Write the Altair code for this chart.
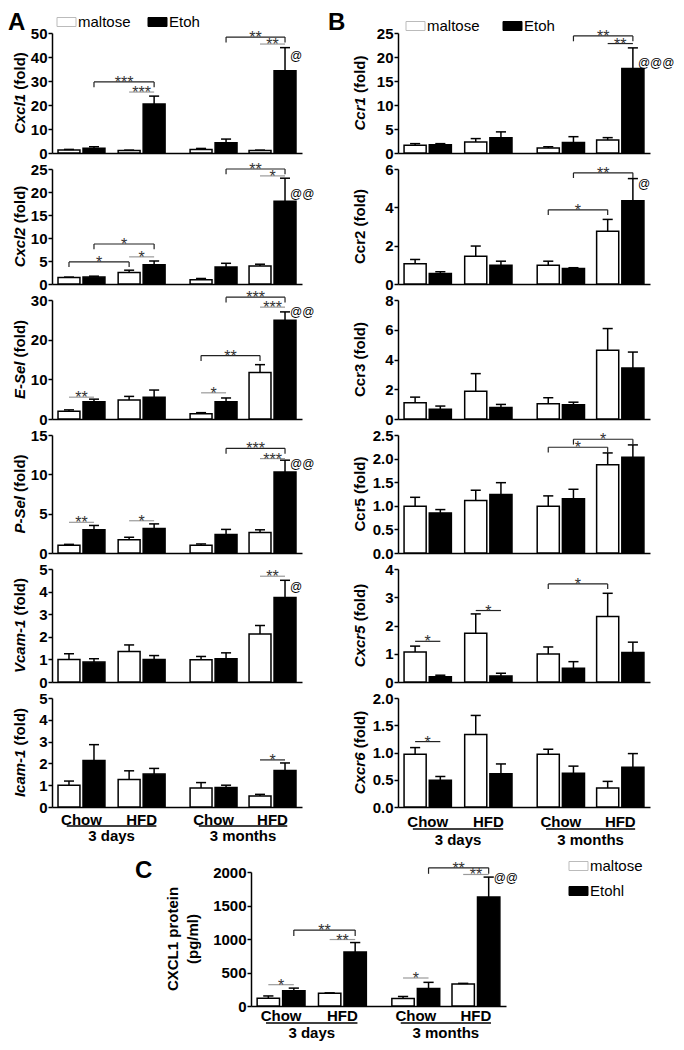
import altair as alt
import pandas as pd

FONT = "Liberation Sans"

# ---------------- data ----------------
groups = ["Chow", "HFD", "Chow", "HFD"]
periods = ["3 days", "3 months"]
treatments = ["maltose", "Etoh"]
treatments_c = ["maltose", "Etohl"]

# bar order: Chow-3d maltose, Chow-3d Etoh, HFD-3d maltose, HFD-3d Etoh,
#            Chow-3m maltose, Chow-3m Etoh, HFD-3m maltose, HFD-3m Etoh
cxcl1_mean = [1.2, 2.0, 1.0, 20.4, 1.5, 4.3, 1.0, 34.3]
cxcl1_top = [1.5, 2.6, 1.2, 23.7, 1.9, 5.8, 1.2, 43.9]
cxcl2_mean = [1.4, 1.5, 2.5, 4.2, 0.9, 3.7, 3.9, 18.0]
cxcl2_top = [1.5, 1.7, 3.0, 5.0, 1.2, 4.5, 4.3, 23.0]
esel_mean = [1.95, 4.35, 4.8, 5.5, 1.3, 4.35, 11.7, 24.9]
esel_top = [2.3, 5.0, 5.7, 7.3, 1.6, 5.3, 13.7, 27.0]
psel_mean = [1.0, 2.95, 1.7, 3.1, 1.0, 2.35, 2.6, 10.3]
psel_top = [1.1, 3.5, 2.0, 3.7, 1.15, 3.0, 2.95, 11.8]
vcam_mean = [1.0, 0.88, 1.35, 1.0, 0.99, 1.03, 2.12, 3.74]
vcam_top = [1.25, 1.03, 1.64, 1.17, 1.13, 1.29, 2.5, 4.5]
icam_mean = [1.0, 2.13, 1.26, 1.51, 0.87, 0.9, 0.51, 1.67]
icam_top = [1.19, 2.86, 1.66, 1.77, 1.12, 1.0, 0.58, 2.02]

ccr1_mean = [1.6, 1.7, 2.3, 3.2, 1.05, 2.2, 2.7, 17.6]
ccr1_top = [1.95, 1.95, 3.0, 4.4, 1.3, 3.4, 3.2, 21.9]
ccr2_mean = [1.06, 0.55, 1.45, 0.98, 0.98, 0.81, 2.75, 4.35]
ccr2_top = [1.28, 0.64, 1.98, 1.19, 1.19, 0.85, 3.37, 5.5]
ccr3_mean = [1.1, 0.65, 1.86, 0.78, 1.02, 0.95, 4.62, 3.43]
ccr3_top = [1.47, 0.87, 3.05, 0.98, 1.43, 1.13, 6.08, 4.5]
ccr5_mean = [0.99, 0.85, 1.11, 1.24, 0.99, 1.15, 1.87, 2.03]
ccr5_top = [1.18, 0.92, 1.33, 1.49, 1.21, 1.35, 2.12, 2.29]
cxcr5_mean = [1.06, 0.19, 1.73, 0.21, 0.99, 0.49, 2.32, 1.04]
cxcr5_top = [1.27, 0.24, 2.41, 0.31, 1.24, 0.72, 3.14, 1.41]
cxcr6_mean = [0.97, 0.49, 1.33, 0.61, 0.97, 0.62, 0.35, 0.73]
cxcr6_top = [1.09, 0.56, 1.68, 0.79, 1.06, 0.75, 0.47, 0.98]

protein_mean = [116, 227, 192, 806, 112, 263, 328, 1627]
protein_top = [150, 267, 196, 947, 142, 353, 338, 1924]

# significance marks: (from bar, to bar, level, label, style)
cxcl1_sig = [(1, 3, 29.6, "***", "b"), (2, 3, 25.4, "***", "g"),
             (5, 7, 48.3, "**", "b"), (6, 7, 45.4, "**", "g")]
cxcl2_sig = [(0, 2, 4.8, "*", "b"), (1, 3, 8.7, "*", "b"), (2, 3, 5.9, "*", "g"),
             (5, 7, 25.0, "**", "b"), (6, 7, 23.5, "*", "g")]
esel_sig = [(0, 1, 5.5, "**", "g"), (4, 5, 6.6, "*", "g"), (4, 6, 16.0, "**", "b"),
            (5, 7, 30.7, "***", "b"), (6, 7, 28.2, "***", "g")]
psel_sig = [(0, 1, 3.9, "**", "g"), (2, 3, 4.1, "*", "g"),
            (5, 7, 13.3, "***", "b"), (6, 7, 12.0, "***", "g")]
vcam_sig = [(6, 7, 4.68, "**", "g")]
icam_sig = [(6, 7, 2.16, "*", "k")]
ccr1_sig = [(5, 7, 24.4, "**", "b"), (6, 7, 22.8, "**", "k")]
ccr2_sig = [(4, 6, 3.87, "*", "b"), (5, 7, 5.8, "**", "b")]
ccr3_sig = []
ccr5_sig = [(4, 6, 2.24, "*", "b"), (5, 7, 2.41, "*", "b")]
cxcr5_sig = [(0, 1, 1.44, "*", "k"), (2, 3, 2.53, "*", "k"), (4, 6, 3.47, "*", "b")]
cxcr6_sig = [(0, 1, 1.2, "*", "k")]
protein_sig = [(0, 1, 318, "*", "g"), (1, 3, 1133, "**", "b"), (2, 3, 992, "**", "g"),
               (4, 5, 418, "*", "g"), (5, 7, 2063, "**", "b"), (6, 7, 1963, "**", "g")]

# "@" marks next to the HFD 3-month Etoh bar: (label, level)
cxcl1_at = ("@", 40.4)
cxcl2_at = ("@@", 19.5)
esel_at = ("@@", 27.0)
psel_at = ("@@", 11.3)
vcam_at = ("@", 4.2)
ccr1_at = ("@@@", 18.7)
ccr2_at = ("@", 5.2)
protein_at = ("@@", 1913)

# ---------------- layout / style constants ----------------
GROUP_X = [0.0, 1.02, 2.24, 3.24]
X_DOMAIN = [-0.5, 3.74]
PAIR_OFF = 0.212
BAR_HALF = 0.186
CAP_HALF = 0.085
LW = 1.5
STYLE_COLOR = {"b": "#222222", "g": "#9a9a9a", "k": "#222222"}

CHAR_W = {' ': 278, '(': 333, ')': 333, 'f': 333, 'o': 611, 'l': 278, 'd': 611,
          'C': 722, 'x': 556, 'c': 556, '1': 556, '2': 556, '3': 556, '5': 556,
          '6': 556, 'E': 667, '-': 333, 'S': 667, 'e': 556, 'P': 667, 'V': 667,
          'a': 556, 'm': 889, 'I': 278, 'r': 389}


def tw(s, size):
    return sum(CHAR_W.get(ch, 600) for ch in s) / 1000.0 * size


def bar_center(k):
    g, tr = divmod(k, 2)
    return GROUP_X[g] + (PAIR_OFF if tr else -PAIR_OFF)


def bar_df(mean, top):
    rows = []
    for k, (m, t) in enumerate(zip(mean, top)):
        g, tr = divmod(k, 2)
        c = bar_center(k)
        rows.append(dict(k=k, group=groups[g], period=periods[g // 2],
                         treatment=treatments[tr], mean=m, top=t, zero=0.0,
                         c=c, x1=c - BAR_HALF, x2=c + BAR_HALF,
                         cap1=c - CAP_HALF, cap2=c + CAP_HALF,
                         fill="black" if tr else "white"))
    return pd.DataFrame(rows)


def panel(gene, italic, mean, top, ticks, fmt, sig, at, w, h, title_dx,
          letter=None, legend=None, bottom=None, title_lines=None,
          legend_labels=treatments):
    ymax = ticks[-1]
    xs = alt.Scale(domain=X_DOMAIN, nice=False, zero=False)
    ys = alt.Scale(domain=[0, ymax], nice=False, zero=True)
    yaxis = alt.Axis(values=ticks, format=fmt, title=None, grid=False,
                     labelFont=FONT, labelFontSize=15, labelFontWeight="bold",
                     labelColor="black", tickColor="black", tickSize=4,
                     tickWidth=LW, domainColor="black", domainWidth=LW,
                     labelPadding=1, labelOverlap=False)
    xaxis = alt.Axis(labels=False, ticks=False, title=None, grid=False,
                     domainColor="black", domainWidth=LW)

    def X(f):
        return alt.X(f, scale=xs, axis=xaxis)

    def Y(f):
        return alt.Y(f, scale=ys, axis=yaxis)

    bars = bar_df(mean, top)
    base = alt.Chart(bars)
    layers = [
        base.mark_rect(stroke="black", strokeWidth=LW).encode(
            x=X("x1:Q"), x2="x2:Q", y=Y("mean:Q"), y2="zero:Q",
            fill=alt.Fill("fill:N", scale=None)),
        base.mark_rule(color="black", strokeWidth=LW).encode(
            x=X("c:Q"), y=Y("mean:Q"), y2="top:Q"),
        base.mark_rule(color="black", strokeWidth=LW).encode(
            x=X("cap1:Q"), x2="cap2:Q", y=Y("top:Q")),
    ]
    if sig:
        srows, trows = [], []
        for (i, j, lev, lab, st) in sig:
            xi, xj = bar_center(i), bar_center(j)
            srows.append(dict(x1=xi, x2=xj, xm=(xi + xj) / 2, y=lev, label=lab,
                              col=STYLE_COLOR[st]))
            if st == "b":
                for xx in (xi, xj):
                    trows.append(dict(x=xx, y=lev, y2=lev - ymax * 0.045))
        sb = alt.Chart(pd.DataFrame(srows))
        layers.append(sb.mark_rule(strokeWidth=1.2).encode(
            x=X("x1:Q"), x2="x2:Q", y=Y("y:Q"),
            color=alt.Color("col:N", scale=None)))
        layers.append(sb.mark_text(font=FONT, fontSize=16, color="#333333",
                                   baseline="alphabetic", dy=6).encode(
            x=X("xm:Q"), y=Y("y:Q"), text="label:N"))
        if trows:
            layers.append(alt.Chart(pd.DataFrame(trows)).mark_rule(
                strokeWidth=1.2, color="#222222").encode(
                x=X("x:Q"), y=Y("y:Q"), y2="y2:Q"))
    if at:
        adf = pd.DataFrame([dict(x=bar_center(7), y=at[1], label=at[0])])
        layers.append(alt.Chart(adf).mark_text(
            font=FONT, fontSize=12, align="left", baseline="middle", dx=5,
            color="black").encode(x=X("x:Q"), y=Y("y:Q"), text="label:N"))
    # y-axis title
    tdf = pd.DataFrame({"t": [0]})
    if title_lines:
        for (txt, dx) in title_lines:
            layers.append(alt.Chart(tdf).mark_text(
                font=FONT, fontSize=15, fontWeight="bold", angle=270,
                align="center", baseline="middle", text=txt, color="black").encode(
                x=alt.value(dx), y=alt.value(h / 2)))
    else:
        fs = 15
        g_w = tw(gene, fs)
        s_w = tw(" ", fs)
        f_w = tw("(fold)", fs)
        yb = h / 2 + (s_w + f_w - g_w) / 2
        layers.append(alt.Chart(tdf).mark_text(
            font=FONT, fontSize=fs, fontWeight="bold",
            fontStyle="italic" if italic else "normal", angle=270,
            align="right", baseline="middle", text=gene, color="black").encode(
            x=alt.value(title_dx), y=alt.value(yb)))
        layers.append(alt.Chart(tdf).mark_text(
            font=FONT, fontSize=fs, fontWeight="bold", angle=270,
            align="left", baseline="middle", text="(fold)", color="black").encode(
            x=alt.value(title_dx), y=alt.value(yb - s_w)))
    if letter:
        txt, lx, ly = letter
        layers.append(alt.Chart(tdf).mark_text(
            font=FONT, fontSize=24, fontWeight="bold", align="left",
            baseline="top", text=txt, color="black").encode(
            x=alt.value(lx), y=alt.value(ly)))
    if legend:
        for k, (bx, by) in enumerate(legend):
            layers.append(alt.Chart(tdf).mark_rect(
                fill="black" if k else "white",
                stroke="black" if k else "#bbbbbb", strokeWidth=1).encode(
                x=alt.value(bx), x2=alt.value(bx + 19),
                y=alt.value(by - 4.5), y2=alt.value(by + 4.5)))
            layers.append(alt.Chart(tdf).mark_text(
                font=FONT, fontSize=15, align="left", baseline="middle",
                text=legend_labels[k], color="black").encode(
                x=alt.value(bx + 21), y=alt.value(by)))
    if bottom:
        o_lab, o_line, o_per = bottom
        gdf = pd.DataFrame({"x": GROUP_X, "label": groups})
        layers.append(alt.Chart(gdf).mark_text(
            font=FONT, fontSize=15, fontWeight="bold", baseline="top",
            color="black").encode(
            x=X("x:Q"), y=alt.value(h + o_lab), text="label:N"))
        pdf = pd.DataFrame({
            "x1": [GROUP_X[0] - 0.25, GROUP_X[2] - 0.25],
            "x2": [GROUP_X[1] + 0.25, GROUP_X[3] + 0.25],
            "label": periods})
        pdf["xm"] = (pdf["x1"] + pdf["x2"]) / 2
        layers.append(alt.Chart(pdf).mark_rule(color="black", strokeWidth=LW).encode(
            x=X("x1:Q"), x2="x2:Q", y=alt.value(h + o_line)))
        layers.append(alt.Chart(pdf).mark_text(
            font=FONT, fontSize=15, fontWeight="bold", baseline="top",
            color="black").encode(
            x=X("xm:Q"), y=alt.value(h + o_per), text="label:N"))
    return alt.layer(*layers).properties(width=w, height=h)


WA, WB, WC = 250, 252, 255
hR = [120, 115, 119, 118, 113, 109]

colA = [
    panel("Cxcl1", True, cxcl1_mean, cxcl1_top, [0, 10, 20, 30, 40, 50], ".0f",
          cxcl1_sig, cxcl1_at, WA, hR[0], -32, letter=("A", -44, -22),
          legend=[(5, -11), (96, -11)]),
    panel("Cxcl2", True, cxcl2_mean, cxcl2_top, [0, 5, 10, 15, 20, 25], ".0f",
          cxcl2_sig, cxcl2_at, WA, hR[1], -32),
    panel("E-Sel", True, esel_mean, esel_top, [0, 10, 20, 30], ".0f",
          esel_sig, esel_at, WA, hR[2], -32),
    panel("P-Sel", True, psel_mean, psel_top, [0, 5, 10, 15], ".0f",
          psel_sig, psel_at, WA, hR[3], -32),
    panel("Vcam-1", True, vcam_mean, vcam_top, [0, 1, 2, 3, 4, 5], ".0f",
          vcam_sig, vcam_at, WA, hR[4], -32),
    panel("Icam-1", True, icam_mean, icam_top, [0, 1, 2, 3, 4, 5], ".0f",
          icam_sig, None, WA, hR[5], -32, bottom=(6, 19, 22)),
]
colB = [
    panel("Ccr1", True, ccr1_mean, ccr1_top, [0, 5, 10, 15, 20, 25], ".0f",
          ccr1_sig, ccr1_at, WB, hR[0], -38, letter=("B", -70, -22),
          legend=[(8, -7), (105, -7)]),
    panel("Ccr2", False, ccr2_mean, ccr2_top, [0, 2, 4, 6], ".0f",
          ccr2_sig, ccr2_at, WB, hR[1], -38),
    panel("Ccr3", False, ccr3_mean, ccr3_top, [0, 2, 4, 6, 8], ".0f",
          ccr3_sig, None, WB, hR[2], -38),
    panel("Ccr5", False, ccr5_mean, ccr5_top, [0, 0.5, 1.0, 1.5, 2.0, 2.5], ".1f",
          ccr5_sig, None, WB, hR[3], -38),
    panel("Cxcr5", True, cxcr5_mean, cxcr5_top, [0, 1, 2, 3, 4], ".0f",
          cxcr5_sig, None, WB, hR[4], -38),
    panel("Cxcr6", True, cxcr6_mean, cxcr6_top, [0, 0.5, 1.0, 1.5, 2.0], ".1f",
          cxcr6_sig, None, WB, hR[5], -38, bottom=(8, 22, 26)),
]
panelC = panel("CXCL1", False, protein_mean, protein_top, [0, 500, 1000, 1500, 2000],
               ".0f", protein_sig, protein_at, WC, 134, -78,
               letter=("C", -116, -13), legend=[(318, -6), (318, 19)],
               bottom=(3, 17, 20),
               title_lines=[("CXCL1 protein", -78), ("(pg/ml)", -58)],
               legend_labels=treatments_c)

spacer = alt.Chart(pd.DataFrame({"t": [0]})).mark_rect(opacity=0).encode(
    x=alt.value(0), x2=alt.value(1), y=alt.value(0), y2=alt.value(1)
).properties(width=1, height=1)

cells = []
for a, b in zip(colA, colB):
    cells += [a, b]

grid = alt.concat(*cells, columns=2, spacing={"row": 16, "column": 96},
                  bounds="flush").resolve_scale(x="independent", y="independent")
c_row = alt.hconcat(spacer, panelC, spacing=198, bounds="flush").resolve_scale(
    x="independent", y="independent")

chart = alt.vconcat(grid, c_row, spacing=11).resolve_scale(
    x="independent", y="independent").properties(
    padding={"left": 0, "top": 3, "right": 0, "bottom": 0},
    background="white").configure(font=FONT).configure_view(stroke=None)

chart.save("out.html", embed_options={"renderer": "svg", "actions": False})
